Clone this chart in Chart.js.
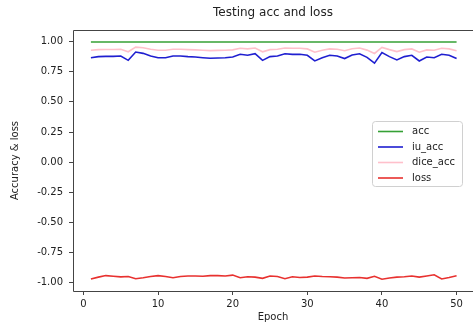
<!DOCTYPE html>
<html>
<head>
<meta charset="utf-8">
<script src="https://cdn.jsdelivr.net/npm/chart.js@4.4.0/dist/chart.umd.min.js"></script>
<style>
  html, body { margin: 0; padding: 0; background: #fff; }
  #wrap { width: 473px; height: 329px; }
</style>
</head>
<body>
<div id="wrap"><canvas id="lossChart" width="473" height="329"></canvas></div>
<script>
// Data
const epochs = [1,2,3,4,5,6,7,8,9,10,11,12,13,14,15,16,17,18,19,20,21,22,23,24,25,
                26,27,28,29,30,31,32,33,34,35,36,37,38,39,40,41,42,43,44,45,46,47,48,49,50];
const acc = [0.997,0.997,0.997,0.997,0.997,0.997,0.997,0.997,0.997,0.997,
             0.997,0.997,0.997,0.997,0.997,0.997,0.997,0.997,0.997,0.997,
             0.997,0.997,0.997,0.997,0.997,0.997,0.997,0.997,0.997,0.997,
             0.997,0.997,0.997,0.997,0.997,0.997,0.997,0.997,0.997,0.997,
             0.997,0.997,0.997,0.997,0.997,0.997,0.997,0.997,0.997,0.997];
const iuAcc = [0.867,0.876,0.878,0.878,0.881,0.845,0.914,0.903,0.881,0.867,
               0.867,0.881,0.881,0.876,0.873,0.867,0.862,0.865,0.867,0.873,
               0.895,0.887,0.900,0.845,0.876,0.881,0.900,0.895,0.895,0.887,
               0.840,0.867,0.887,0.881,0.860,0.890,0.900,0.870,0.822,0.909,
               0.876,0.848,0.876,0.887,0.840,0.873,0.867,0.895,0.887,0.860];
const diceAcc = [0.929,0.934,0.935,0.935,0.937,0.916,0.955,0.949,0.937,0.929,
                 0.929,0.937,0.937,0.934,0.932,0.929,0.926,0.928,0.929,0.932,
                 0.945,0.940,0.947,0.916,0.934,0.937,0.947,0.945,0.945,0.940,
                 0.913,0.929,0.940,0.937,0.925,0.942,0.947,0.930,0.902,0.952,
                 0.934,0.918,0.934,0.940,0.913,0.932,0.929,0.945,0.940,0.925];
const loss = [-0.970,-0.955,-0.942,-0.948,-0.953,-0.950,-0.968,-0.960,-0.950,-0.942,
              -0.950,-0.960,-0.950,-0.946,-0.945,-0.948,-0.942,-0.942,-0.945,-0.938,
              -0.960,-0.952,-0.955,-0.965,-0.945,-0.950,-0.968,-0.952,-0.958,-0.955,
              -0.945,-0.950,-0.952,-0.955,-0.962,-0.960,-0.958,-0.965,-0.948,-0.972,
              -0.962,-0.955,-0.952,-0.945,-0.955,-0.945,-0.935,-0.970,-0.958,-0.943];
const seriesNames = ['acc', 'iu_acc', 'dice_acc', 'loss'];
const seriesColors = ['#35a035', '#1f1fd0', '#ffc0cb', '#e8312f'];
const xTicks = [0, 10, 20, 30, 40, 50];
const yTicks = [-1.00, -0.75, -0.50, -0.25, 0.00, 0.25, 0.50, 0.75, 1.00];

const toPoints = (vals) => vals.map((v, i) => ({ x: epochs[i], y: v }));
const allSeries = [acc, iuAcc, diceAcc, loss];

const font = 'DejaVu Sans';
const axisColor = '#444';

// left, top and bottom spines (right one falls outside the picture)
const framePlugin = {
    id: 'frame',
    afterDraw(chart) {
        const { ctx, chartArea: a } = chart;
        ctx.save();
        ctx.strokeStyle = axisColor;
        ctx.lineWidth = 1;
        ctx.beginPath();
        ctx.moveTo(chart.width, a.top + 0.5);
        ctx.lineTo(a.left + 0.5, a.top + 0.5);
        ctx.lineTo(a.left + 0.5, a.bottom + 0.5);
        ctx.lineTo(chart.width, a.bottom + 0.5);
        ctx.stroke();
        ctx.restore();
    }
};

// legend drawn inside the plot, right side
const innerLegend = {
    id: 'innerLegend',
    afterDraw(chart) {
        const ctx = chart.ctx;
        const x = 372, y = 121, w = 90, h = 65;
        ctx.save();
        ctx.fillStyle = 'rgba(255,255,255,0.85)';
        ctx.strokeStyle = '#d0d0d0';
        ctx.lineWidth = 1;
        ctx.beginPath();
        ctx.roundRect(x + 0.5, y + 0.5, w, h, 3);
        ctx.fill();
        ctx.stroke();
        ctx.font = '10px "' + font + '"';
        ctx.textBaseline = 'middle';
        chart.data.datasets.forEach((ds, i) => {
            const ry = y + 10.5 + i * 15.5;
            ctx.strokeStyle = ds.borderColor;
            ctx.lineWidth = 1.6;
            ctx.beginPath();
            ctx.moveTo(x + 6, ry);
            ctx.lineTo(x + 31, ry);
            ctx.stroke();
            ctx.fillStyle = '#222';
            ctx.fillText(ds.label, x + 40, ry);
        });
        ctx.restore();
    }
};

const data = {
    datasets: allSeries.map((vals, i) => ({
        label: seriesNames[i],
        data: toPoints(vals),
        borderColor: seriesColors[i],
        backgroundColor: seriesColors[i],
        borderWidth: 1.6,
        pointRadius: 0,
        tension: 0,
        fill: false
    }))
};

const config = {
    type: 'line',
    data: data,
    options: {
        responsive: false,
        animation: false,
        layout: { padding: 0 },
        plugins: {
            legend: { display: false },
            tooltip: { enabled: false },
            title: {
                display: true,
                text: 'Testing acc and loss',
                fullSize: false,
                color: '#222',
                font: { family: font, size: 12, weight: 'normal' },
                padding: { top: 6, bottom: 9.6 }
            }
        },
        scales: {
            x: {
                type: 'linear',
                min: -1.4,
                max: 52.2,
                afterFit(scale) { scale.height = 38; },
                afterBuildTicks(scale) { scale.ticks = xTicks.map(v => ({ value: v })); },
                grid: { drawOnChartArea: false, drawTicks: true, tickLength: 4, color: axisColor },
                border: { display: false },
                ticks: {
                    color: '#222',
                    padding: 3,
                    maxRotation: 0,
                    font: { family: font, size: 10 },
                    callback: (v) => String(v)
                },
                title: {
                    display: true,
                    text: 'Epoch',
                    color: '#222',
                    font: { family: font, size: 10 },
                    padding: { top: 0, bottom: 6 }
                }
            },
            y: {
                type: 'linear',
                min: -1.07,
                max: 1.097,
                afterFit(scale) { scale.width = 73; },
                afterBuildTicks(scale) { scale.ticks = yTicks.map(v => ({ value: v })); },
                grid: { drawOnChartArea: false, drawTicks: true, tickLength: 4, color: axisColor },
                border: { display: false },
                ticks: {
                    color: '#222',
                    padding: 6,
                    font: { family: font, size: 10 },
                    callback: (v) => Number(v).toFixed(2)
                },
                title: {
                    display: true,
                    text: 'Accuracy & loss',
                    color: '#222',
                    font: { family: font, size: 10 },
                    padding: { top: 9, bottom: 0 }
                }
            }
        }
    },
    plugins: [framePlugin, innerLegend]
};

const lossChart = document.getElementById('lossChart').getContext('2d');
new Chart(lossChart, config);
</script>
</body>
</html>
